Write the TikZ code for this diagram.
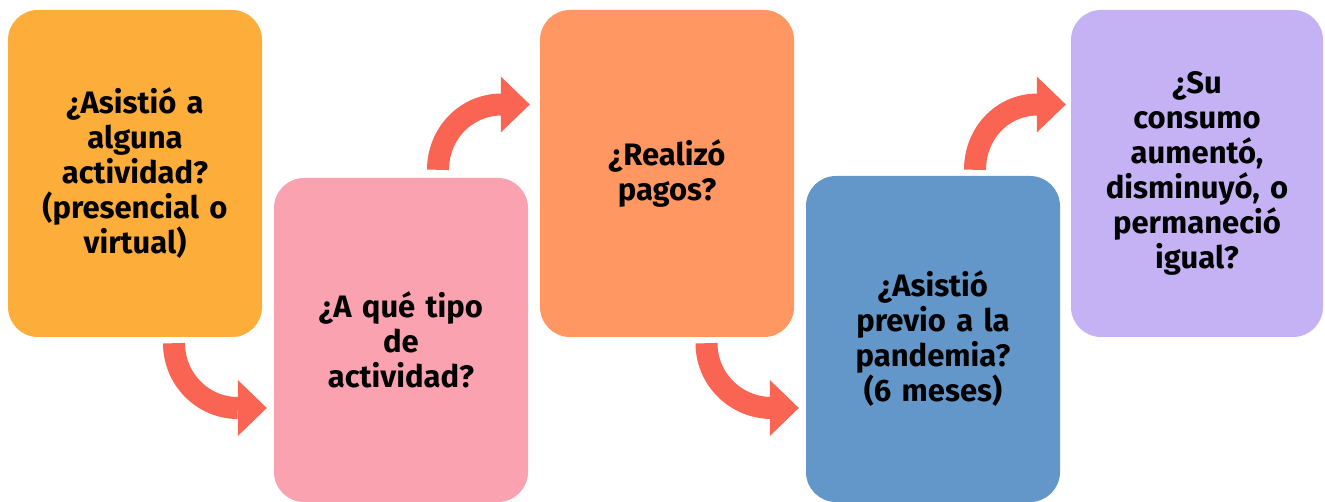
\documentclass[tikz,border=0pt]{standalone}
\usepackage{fontspec}
\setmainfont{Fira Sans}
\usetikzlibrary{arrows.meta,calc}
\definecolor{cA}{RGB}{253,174,58}
\definecolor{cB}{RGB}{251,162,177}
\definecolor{cC}{RGB}{254,151,98}
\definecolor{cD}{RGB}{99,150,201}
\definecolor{cE}{RGB}{196,178,245}
\definecolor{cArr}{RGB}{249,101,82}
\tikzset{
  card/.style={rounded corners=30pt, inner sep=0pt, minimum width=254pt,
    text width=240pt, align=center,
    font=\fontsize{31pt}{35pt}\selectfont\bfseries},
  flow/.style={draw=cArr, line width=22pt,
    -{Triangle[length=29pt,width=56pt,line width=0pt]}, fill=none}
}
\begin{document}
\begin{tikzpicture}[x=1pt,y=-1pt]
\useasboundingbox (0,0) rectangle (1325,502);
\node[card, fill=cA, minimum height=327pt] (b1) at (135,173.5)
  {¿Asistió a\\alguna\\actividad?\\(presencial o\\virtual)};
\node[card, fill=cB, minimum height=324pt] (b2) at (401,340)
  {¿A qué tipo\\de\\actividad?};
\node[card, fill=cC, minimum height=327pt] (b3) at (667,173.5)
  {¿Realizó\\pagos?};
\node[card, fill=cD, minimum height=326pt] (b4) at (933,339)
  {¿Asistió\\previo a la\\pandemia?\\(6 meses)};
\node[card, fill=cE, minimum height=327pt, minimum width=252pt] (b5) at (1197,173.5)
  {¿Su\\consumo\\aumentó,\\disminuyó, o\\permaneció\\igual?};
% connectors
\coordinate (a1s) at ($(b1.south)+(39,6)$);
\coordinate (a1e) at ($(b2.west)+(-7,68)$);
\draw[flow] (a1s) .. controls ($(a1s)+(0,36)$) and ($(a1e)+(-64,0)$) .. ($(a1e)+(-29,0)$) -- (a1e);
\coordinate (a2s) at ($(b2.north)+(37,-8)$);
\coordinate (a2e) at ($(b3.west)+(-10,-69)$);
\draw[flow] (a2s) .. controls ($(a2s)+(0,-36)$) and ($(a2e)+(-64,0)$) .. ($(a2e)+(-28,0)$) -- (a2e);
\coordinate (a3s) at ($(b3.south)+(39.5,6)$);
\coordinate (a3e) at ($(b4.west)+(-7,69)$);
\draw[flow] (a3s) .. controls ($(a3s)+(0,36)$) and ($(a3e)+(-63,0)$) .. ($(a3e)+(-27,0)$) -- (a3e);
\coordinate (a4s) at ($(b4.north)+(42,-6)$);
\coordinate (a4e) at ($(b5.west)+(-5,-69)$);
\draw[flow] (a4s) .. controls ($(a4s)+(0,-36)$) and ($(a4e)+(-64,0)$) .. ($(a4e)+(-28,0)$) -- (a4e);
\end{tikzpicture}
\end{document}
